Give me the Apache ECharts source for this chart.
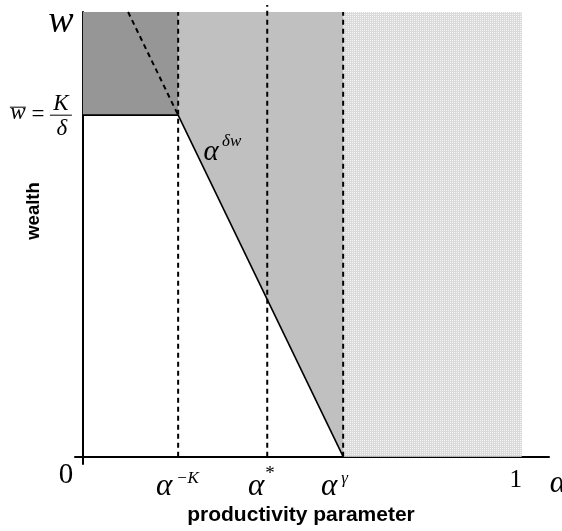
<!DOCTYPE html>
<html>
<head>
<meta charset="utf-8">
<script src="https://cdn.jsdelivr.net/npm/echarts@6/dist/echarts.min.js"></script>
<style>
  html, body { margin: 0; padding: 0; background: #fff; }
  #chart { width: 562px; height: 531px; }
</style>
</head>
<body>
<div id="chart"></div>
<script>
// productivity cutoffs (alpha axis, 1 = maximum)
const alphaK = 0.217
const alphaStar = 0.42
const alphaGamma = 0.593
const alphaMax = 1
// wealth levels
const wBar = 0.768
const wTop = 1

// shaded regions
const darkRegion = [[0, wBar], [alphaK, wBar], [alphaK, wTop], [0, wTop]]
const greyRegion = [[alphaK, wBar], [alphaGamma, 0], [alphaGamma, wTop], [alphaK, wTop]]
const dotRegion = [[alphaGamma, 0], [alphaMax, 0], [alphaMax, wTop], [alphaGamma, wTop]]

// lines
const floorLine = [[0, wBar], [alphaK, wBar]]
const frontierLine = [[alphaK, wBar], [alphaGamma, 0]]
const frontierDashed = [[0.103, wTop], [alphaK, wBar]]
const cutoffK = [[alphaK, 0], [alphaK, wTop]]
const cutoffStar = [[alphaStar, 0], [alphaStar, 1.016]]
const cutoffGamma = [[alphaGamma, 0], [alphaGamma, wTop]]

// tick labels on the alpha axis
const tickValues = [alphaK, alphaStar, alphaGamma]
const tickSups = ['\u2212K', '*', '\u03b3']
const frontierLabelAt = [0.292, 0.685]

const serif = '"Liberation Serif", "DejaVu Serif", serif'

// stipple pattern for the right region
const pat = document.createElement('canvas')
pat.width = 2
pat.height = 2
const pctx = pat.getContext('2d')
pctx.fillStyle = '#dadada'
pctx.fillRect(0, 0, 2, 2)
pctx.fillStyle = '#f6f6f6'
pctx.fillRect(0, 0, 1, 1)

function regionSeries(region, fill) {
  return {
    type: 'custom',
    silent: true,
    z: 1,
    data: region,
    renderItem(params, api) {
      if (params.dataIndex !== 0) return
      const pts = region.map(p => api.coord(p))
      return { type: 'polygon', shape: { points: pts }, style: { fill: fill } }
    }
  }
}

function lineSeries(data, dashed, clip) {
  return {
    type: 'line',
    data: data,
    symbol: 'none',
    silent: true,
    clip: clip !== false,
    z: 3,
    lineStyle: { color: '#000', width: dashed ? 2 : 1.6, type: dashed ? [5, 4] : 'solid' }
  }
}

function txt(x, y, text, font, align) {
  return {
    type: 'text', x: x, y: y,
    style: { text: text, font: font, fill: '#000', align: align || 'center', verticalAlign: 'middle' }
  }
}

const labelDx = [-14, -11, -14]

const chart = echarts.init(document.getElementById('chart'))
chart.setOption({
  animation: false,
  grid: { left: 75, right: 13, top: 12, bottom: 67 },
  xAxis: {
    type: 'value', min: -0.018, max: 1.062,
    axisLine: { show: true, onZero: true, lineStyle: { color: '#000', width: 2 } },
    axisTick: { show: false }, axisLabel: { show: false }, splitLine: { show: false }
  },
  yAxis: {
    type: 'value', min: -0.0164, max: 1,
    axisLine: { show: true, onZero: true, lineStyle: { color: '#000', width: 2 } },
    axisTick: { show: false }, axisLabel: { show: false }, splitLine: { show: false }
  },
  graphic: [
    {
      type: 'text', x: 301, y: 515,
      style: { text: 'productivity parameter', font: 'bold 21px "Liberation Sans", Arial, sans-serif', fill: '#000', align: 'center', verticalAlign: 'middle' }
    },
    {
      type: 'text', x: 34, y: 211, rotation: Math.PI / 2,
      style: { text: 'wealth', font: 'bold 18.5px "Liberation Sans", Arial, sans-serif', fill: '#000', align: 'center', verticalAlign: 'middle' }
    }
  ],
  series: [
    regionSeries(darkRegion, '#969696'),
    regionSeries(greyRegion, '#c0c0c0'),
    regionSeries(dotRegion, { image: pat, repeat: 'repeat' }),
    lineSeries(floorLine, false),
    lineSeries(frontierLine, false),
    lineSeries(frontierDashed, true),
    lineSeries(cutoffK, true),
    lineSeries(cutoffStar, true, false),
    lineSeries(cutoffGamma, true),
    // alpha tick labels
    {
      type: 'custom',
      silent: true,
      z: 5,
      data: tickValues.map((v, i) => [v, 0, i]),
      renderItem(params, api) {
        const p = api.coord([api.value(0), api.value(1)])
        const i = api.value(2)
        const supFont = i === 1 ? '19px ' + serif : 'italic 17px ' + serif
        return {
          type: 'group',
          children: [
            txt(p[0] + labelDx[i], p[1] + 30, '\u03b1', 'italic 31px ' + serif),
            txt(p[0] - 2, p[1] + (i === 1 ? 17 : 22), tickSups[i], supFont, 'left')
          ]
        }
      }
    },
    // origin, 1, axis names and wbar annotation
    {
      type: 'custom',
      silent: true,
      z: 5,
      data: [[0, 0]],
      renderItem(params, api) {
        const o = api.coord([0, 0])
        const one = api.coord([alphaMax, 0])
        const top = api.coord([0, wTop])
        const wb = api.coord([0, wBar])
        const end = api.coord([1.062, 0])
        const fl = api.coord(frontierLabelAt)
        return {
          type: 'group',
          children: [
            txt(o[0] - 17, o[1] + 19, '0', '29px ' + serif),
            txt(one[0] - 6, one[1] + 24, '1', '25px ' + serif),
            txt(end[0] + 9, end[1] + 27, '\u03b1', 'italic 31px ' + serif),
            txt(top[0] - 22, top[1] + 10, 'w', 'italic 38px ' + serif),
            // wbar = K / delta
            txt(wb[0] - 65, wb[1] - 2, 'w', 'italic 23px ' + serif),
            { type: 'line', shape: { x1: wb[0] - 73, y1: wb[1] - 8, x2: wb[0] - 57, y2: wb[1] - 8 }, style: { stroke: '#000', lineWidth: 1 } },
            txt(wb[0] - 45, wb[1], '=', '23px ' + serif),
            txt(wb[0] - 22, wb[1] - 11, 'K', 'italic 23px ' + serif),
            { type: 'line', shape: { x1: wb[0] - 33, y1: wb[1], x2: wb[0] - 11, y2: wb[1] }, style: { stroke: '#000', lineWidth: 1 } },
            txt(wb[0] - 21, wb[1] + 14, '\u03b4', 'italic 23px ' + serif),
            // frontier label alpha^{delta w}
            txt(fl[0], fl[1], '\u03b1', 'italic 29px ' + serif),
            txt(fl[0] + 11, fl[1] - 11, '\u03b4w', 'italic 17px ' + serif, 'left')
          ]
        }
      }
    }
  ]
})
</script>
</body>
</html>
